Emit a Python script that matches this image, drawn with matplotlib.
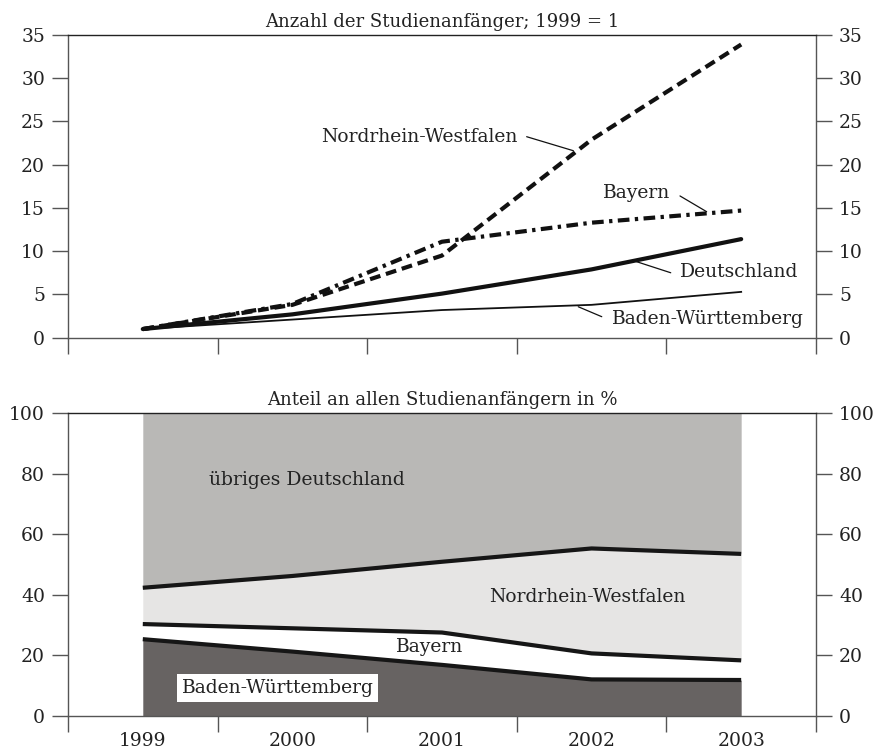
import matplotlib
matplotlib.use("Agg")
import matplotlib.pyplot as plt
import numpy as np

years = [1999, 2000, 2001, 2002, 2003]

# top panel: index, 1999 = 1
nrw_idx = [1.0, 3.8, 9.5, 22.9, 33.9]
by_idx = [1.0, 3.9, 11.1, 13.3, 14.7]
de_idx = [1.0, 2.7, 5.1, 7.9, 11.4]
bw_idx = [1.0, 2.1, 3.2, 3.8, 5.3]

# bottom panel: shares in %
bw_share = [25.3, 21.2, 16.8, 12.0, 11.8]
by_share = [5.0, 7.7, 10.7, 8.6, 6.5]
nrw_share = [12.0, 17.3, 23.4, 34.7, 35.2]

plt.rcParams['font.family'] = ['DejaVu Serif']
FS = 13.5
GREY = '#555555'
TXT = '#222222'

fig = plt.figure(figsize=(8.83, 7.54), dpi=100)
ax1 = fig.add_axes([0.0770, 0.5521, 0.8471, 0.4015])
ax2 = fig.add_axes([0.0770, 0.0508, 0.8471, 0.4011])


def style(ax, ymax, ystep):
    ax.set_xlim(1998.5, 2003.5)
    ax.set_ylim(0, ymax)
    ax.set_yticks(np.arange(0, ymax + 0.1, ystep))
    ax.set_xticks(np.arange(1998.5, 2004, 1.0))
    ax.tick_params(axis='both', direction='out', length=11.5, width=1.0,
                   color=GREY, labelsize=FS, labelcolor=TXT)
    ax.tick_params(axis='y', left=True, right=True, labelleft=True,
                   labelright=True, pad=5)
    ax.tick_params(axis='x', labelbottom=False)
    for s in ax.spines.values():
        s.set_color(GREY)
        s.set_linewidth(1.0)
    ax.spines['top'].set_color('#222222')
    ax.set_yticklabels([f"{int(v)}" for v in np.arange(0, ymax + 0.1, ystep)])


style(ax1, 35, 5)
style(ax2, 100, 20)

# top panel lines
l_nrw, = ax1.plot(years, nrw_idx, color='#111111', lw=3.0, solid_capstyle='butt')
l_nrw.set_dashes([2.6, 1.4])
l_nrw.set_dash_capstyle('butt')
l_by, = ax1.plot(years, by_idx, color='#111111', lw=3.0)
l_by.set_dashes([2.8, 1.3, 0.8, 1.3])
l_by.set_dash_capstyle('butt')
ax1.plot(years, de_idx, color='#111111', lw=3.0, solid_capstyle='round')
ax1.plot(years, bw_idx, color='#111111', lw=1.3)

ax1.set_title('Anzahl der Studienanfänger; 1999 = 1', fontsize=13, color=TXT, pad=6)

lab = dict(fontsize=FS, color=TXT, ha='center', va='center')
lead = dict(arrowstyle='-', color='#111111', lw=0.9, shrinkA=0, shrinkB=0)
ax1.text(2000.846, 23.2, 'Nordrhein-Westfalen', **lab)
ax1.annotate('', xy=(2001.878, 21.62), xytext=(2001.566, 23.24), arrowprops=lead)
ax1.text(2002.303, 16.7, 'Bayern', **lab)
ax1.annotate('', xy=(2002.769, 14.57), xytext=(2002.591, 16.39), arrowprops=lead)
ax1.text(2002.985, 7.6, 'Deutschland', **lab)
ax1.annotate('', xy=(2002.301, 8.79), xytext=(2002.529, 7.51), arrowprops=lead)
ax1.text(2002.778, 2.16, 'Baden-Württemberg', **lab)
ax1.annotate('', xy=(2001.911, 3.58), xytext=(2002.068, 2.43), arrowprops=lead)

# bottom panel stacked areas
c1 = np.array(bw_share)
c2 = c1 + np.array(by_share)
c3 = c2 + np.array(nrw_share)
top = np.full(len(years), 100.0)
zero = np.zeros(len(years))
ax2.fill_between(years, zero, c1, color='#676362', lw=0)
ax2.fill_between(years, c1, c2, color='white', lw=0)
ax2.fill_between(years, c2, c3, color='#e6e5e4', lw=0)
ax2.fill_between(years, c3, top, color='#b9b8b6', lw=0)
for c in (c1, c2, c3):
    ax2.plot(years, c, color='#161616', lw=3.0, solid_capstyle='butt')

ax2.set_title('Anteil an allen Studienanfängern in %', fontsize=13, color=TXT, pad=6)

ax2.set_xticks(years, minor=True)
ax2.set_xticklabels([str(y) for y in years], minor=True)
ax2.tick_params(axis='x', which='minor', length=0, labelbottom=True,
                labelsize=FS, labelcolor=TXT, pad=12)

ax2.text(2000.098, 77.9, 'übriges Deutschland', **lab)
ax2.text(2001.969, 39.2, 'Nordrhein-Westfalen', **lab)
ax2.text(2000.92, 22.7, 'Bayern', **lab)
ax2.text(1999.9, 9.2, 'Baden-Württemberg',
         bbox=dict(facecolor='white', edgecolor='none', pad=3.5), **lab)

fig.savefig('out.png', dpi=100)
